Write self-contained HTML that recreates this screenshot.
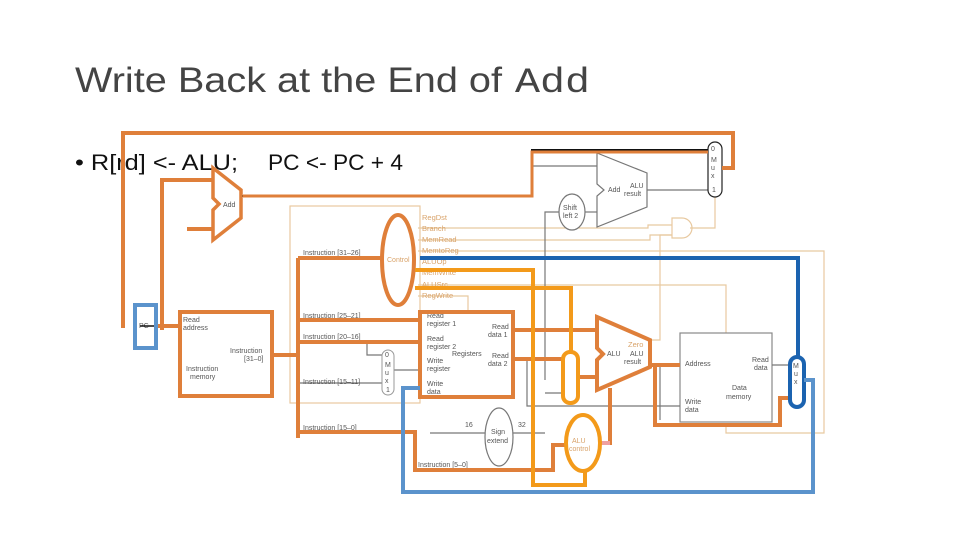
<!DOCTYPE html>
<html><head><meta charset="utf-8"><style>
html,body{margin:0;padding:0;background:#fff;}
svg{display:block;}
.s{font-family:"Liberation Sans",sans-serif;}
</style></head><body>
<svg width="960" height="540" viewBox="0 0 960 540" xmlns="http://www.w3.org/2000/svg">
<text x="75" y="92" class="s" font-size="35" fill="#444" textLength="427" lengthAdjust="spacingAndGlyphs">Write Back at the End of</text>
<text x="515" y="92" font-family="Liberation Mono,monospace" font-size="35" fill="#444" textLength="75" lengthAdjust="spacingAndGlyphs">Add</text>
<text x="75" y="170" class="s" font-size="22" fill="#111" textLength="163" lengthAdjust="spacingAndGlyphs">• R[rd] &lt;- ALU;</text>
<text x="268" y="170" class="s" font-size="22" fill="#111" textLength="135" lengthAdjust="spacingAndGlyphs">PC &lt;- PC + 4</text>

<!-- beige thin wires -->
<g fill="none" stroke="#e8c9a0" stroke-width="1.2">
<rect x="290" y="206" width="130" height="197"/>
<path d="M418 228 H648 V225 H672"/>
<path d="M418 240 H650 V235 H672"/>
<path d="M418 251 H824 V433 H726 V425"/>
<path d="M418 285 H726 V333"/>
<path d="M418 296 H468 V311"/>
<path d="M690 228 H715 V197"/>
<path d="M650 340 H660 V235 H672"/>
<path d="M672 218 H682 A10 10 0 0 1 682 238 H672 Z"/>
</g>
<g class="s" font-size="7.5" fill="#d9a36a">
<text x="422" y="220">RegDst</text><text x="422" y="231">Branch</text><text x="422" y="242">MemRead</text><text x="422" y="253">MemtoReg</text><text x="422" y="264">ALUOp</text><text x="422" y="275">MemWrite</text><text x="422" y="287">ALUSrc</text><text x="422" y="298">RegWrite</text>
<text x="628" y="347">Zero</text>
</g>

<!-- gray thin components -->
<g fill="none" stroke="#777" stroke-width="1.2">
<polygon points="597,153 647,173 647,207 597,227 597,196 604,190 597,184" fill="#fff"/>
<ellipse cx="572" cy="212" rx="13" ry="18" fill="#fff"/>
<path d="M532 166 H597"/><path d="M647 190 H708"/><path d="M545 380 V212 H559"/><path d="M585 212 H597"/>
<ellipse cx="499" cy="437" rx="14" ry="29"/>
<path d="M430 433 H485"/><path d="M513 433 H545"/>
<rect x="680" y="333" width="92" height="89" stroke="#888"/>
<path d="M527 359 V406 H680"/>
<path d="M545 393 H563"/>
<path d="M772 365 H790"/>
<path d="M660 365 V420"/>
<path d="M298 383 H382"/><path d="M367 342 V355 H382"/><path d="M392 370 H420"/>
<path d="M420 470 H515"/>
</g>
<rect x="708" y="142" width="14" height="55" rx="7" fill="#fff" stroke="#222" stroke-width="1.2"/>
<rect x="382" y="350" width="12" height="45" rx="6" fill="#fff" stroke="#999" stroke-width="1"/>
<g class="s" font-size="7" fill="#555">
<text x="711" y="151">0</text><text x="711" y="162">M</text><text x="711" y="170">u</text><text x="711" y="178">x</text><text x="712" y="192">1</text>
<text x="385" y="357">0</text><text x="385" y="367">M</text><text x="385" y="375">u</text><text x="385" y="383">x</text><text x="386" y="392">1</text>
<text x="608" y="192">Add</text><text x="630" y="188">ALU</text><text x="624" y="196">result</text>
<text x="563" y="210">Shift</text><text x="563" y="218">left 2</text>
<text x="491" y="434">Sign</text><text x="487" y="443">extend</text>
<text x="465" y="427">16</text><text x="518" y="427">32</text>
<text x="183" y="322">Read</text><text x="183" y="330">address</text>
<text x="230" y="353">Instruction</text><text x="244" y="361">[31–0]</text>
<text x="186" y="371">Instruction</text><text x="190" y="379">memory</text>
<text x="303" y="255">Instruction [31–26]</text><text x="303" y="318">Instruction [25–21]</text><text x="303" y="339">Instruction [20–16]</text><text x="303" y="384">Instruction [15–11]</text><text x="303" y="430">Instruction [15–0]</text><text x="418" y="467">Instruction [5–0]</text>
<text x="427" y="318">Read</text><text x="427" y="326">register 1</text><text x="427" y="341">Read</text><text x="427" y="349">register 2</text><text x="452" y="356">Registers</text>
<text x="427" y="363">Write</text><text x="427" y="371">register</text><text x="427" y="386">Write</text><text x="427" y="394">data</text>
<text x="492" y="329">Read</text><text x="488" y="337">data 1</text><text x="492" y="358">Read</text><text x="488" y="366">data 2</text>
<text x="607" y="356">ALU</text><text x="630" y="356">ALU</text><text x="624" y="364">result</text>
<text x="685" y="366">Address</text><text x="752" y="362">Read</text><text x="754" y="370">data</text>
<text x="732" y="390">Data</text><text x="726" y="399">memory</text><text x="685" y="404">Write</text><text x="685" y="412">data</text>
<text x="139" y="328">PC</text><text x="223" y="207">Add</text><text x="387" y="262" fill="#d9a36a">Control</text>
<text x="572" y="443" fill="#d9a36a">ALU</text><text x="569" y="451" fill="#d9a36a">control</text>
<text x="793" y="368">M</text><text x="794" y="376">u</text><text x="794" y="384">x</text>
</g>

<!-- black wire -->
<path d="M241 196 H532 V150 H708" fill="none" stroke="#111" stroke-width="2"/>
<path d="M140 326 H180" stroke="#111" stroke-width="1.5"/>

<!-- orange thick -->
<g fill="none" stroke="#df7f3a" stroke-width="4">
<path d="M123 328 V133 H733 V168 H722"/>
<path d="M162 330 V180 H212"/>
<path d="M187 229 H213"/>
<polygon points="213,168 241,190 241,218 213,240 213,210 219,204 213,198" stroke-width="3.5"/>
<path d="M243 196 H532 V152 H708" stroke-width="3"/>
<path d="M157 326 H180"/>
<rect x="180" y="312" width="92" height="84"/>
<path d="M272 355 H298"/>
<path d="M298 258 V438"/>
<path d="M298 258 H382"/><path d="M298 320 H420"/><path d="M298 342 H420"/>
<path d="M298 432 H415 V470 H553 V445 H566"/>
<ellipse cx="398" cy="260" rx="16" ry="45"/>
<rect x="420" y="312" width="93" height="85"/>
<path d="M513 330 H597"/><path d="M513 359 H563"/>
<path d="M578 377 H597"/>
<polygon points="597,317 650,340 650,367 597,390 597,360 603,354 597,348"/>
<path d="M650 365 H680"/>
<path d="M655 365 V425 H780 V398 H790"/>
<path d="M610 388 V443 H600"/>
</g>
<path d="M600 443 H610" stroke="#f0a0a0" stroke-width="4"/>
<g fill="none" stroke="#f39a1a" stroke-width="4">
<path d="M415 270 H533 V485 H585 V470"/>
<path d="M415 288 H571 V352"/>
<ellipse cx="583" cy="443" rx="17" ry="28"/>
<rect x="563" y="352" width="15" height="51" rx="7"/>
</g>
<!-- blue -->
<path d="M420 258 H798 V357" fill="none" stroke="#1b63b0" stroke-width="4"/>
<rect x="790" y="357" width="14" height="50" rx="7" fill="none" stroke="#1b63b0" stroke-width="4"/>
<rect x="135" y="305" width="21" height="43" fill="none" stroke="#5b93cc" stroke-width="4"/>
<path d="M804 380 H813 V492 H403 V388 H420" fill="none" stroke="#5b93cc" stroke-width="4"/>
</svg>
</body></html>
